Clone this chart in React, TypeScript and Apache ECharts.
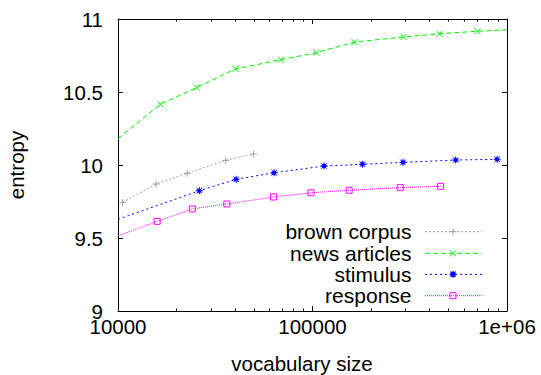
import React, { useEffect, useRef } from "react";
import * as echarts from "echarts";

// ---- data ----
const brownX = [10550, 15700, 22700, 35800, 49800];
const brownY = [9.744, 9.87, 9.943, 10.032, 10.075];

const newsX = [10000, 16500, 25400, 40200, 68800, 104700, 164300, 293800, 450400, 704600, 1000000];
const newsY = [10.18, 10.416, 10.53, 10.658, 10.721, 10.769, 10.842, 10.877, 10.899, 10.916, 10.925];

const stimX = [10000, 26200, 40500, 63500, 114700, 180600, 291700, 544700, 890000];
const stimY = [9.628, 9.824, 9.902, 9.947, 9.993, 10.005, 10.018, 10.034, 10.039];

const respX = [10000, 15900, 24100, 36300, 63100, 98200, 154300, 282500, 455700];
const respY = [9.514, 9.614, 9.699, 9.733, 9.781, 9.81, 9.827, 9.845, 9.854];

const seriesNames = ["brown corpus", "news articles", "stimulus", "response"];
const yTicks = [9, 9.5, 10, 10.5, 11];
const xMajorTicks = [10000, 100000, 1000000];
const xMajorLabels = ["10000", "100000", "1e+06"];
const xMinorTicks = [20000, 30000, 40000, 50000, 60000, 70000, 80000, 90000, 200000, 300000, 400000, 500000, 600000, 700000, 800000, 900000];

const X_MIN = 10000;
const X_MAX = 1000000;

const FONT = '"Liberation Sans", Arial, sans-serif';
const colors = ["#a0a0a0", "#00f000", "#0000ff", "#ff00ff"];
const dashes = [[2, 2], [5, 3], [2, 3], [1, 1]];

const plusPath = "path://M5 0 L5 10 M0 5 L10 5";
const crossPath = "path://M0 0 L10 10 M10 0 L0 10";
const starPath = "path://M5 0 L5 10 M0 5 L10 5 M1 1 L9 9 M9 1 L1 9 M3 3 L7 3 L7 7 L3 7 Z";
const squarePath = "path://M0 0 L10 0 L10 10 L0 10 Z";
const symbols = [plusPath, crossPath, starPath, squarePath];
const symbolSizes = [7, 6, 7, 6];

function pairs(xs: number[], ys: number[]) {
  return xs.map((x, i) => {
    const item: any = { value: [x, ys[i]] };
    if (x <= X_MIN || x >= X_MAX) item.symbol = "none";
    return item;
  });
}

function legendGraphics() {
  const rowsY = [231.7, 253.3, 274.3, 295.7];
  const textRight = 411.5;
  const lineX0 = 425;
  const lineX1 = 482;
  const mx = 453;
  const els: any[] = [];
  seriesNames.forEach((name, i) => {
    const y = rowsY[i];
    const c = colors[i];
    els.push({
      type: "text",
      x: textRight,
      y: y,
      style: {
        text: name,
        font: `21px ${FONT}`,
        fill: "#000",
        align: "right",
        verticalAlign: "middle",
        textAlign: "right",
        textVerticalAlign: "middle",
      },
    });
    els.push({
      type: "line",
      shape: { x1: lineX0, y1: y, x2: lineX1, y2: y },
      style: { stroke: c, lineWidth: 1, lineDash: dashes[i] },
    });
    const s = symbolSizes[i] / 2;
    const st = { stroke: c, lineWidth: 1, fill: "none" };
    if (i === 0 || i === 2) {
      els.push({ type: "line", shape: { x1: mx - s, y1: y, x2: mx + s, y2: y }, style: st });
      els.push({ type: "line", shape: { x1: mx, y1: y - s, x2: mx, y2: y + s }, style: st });
    }
    if (i === 1 || i === 2) {
      const d = i === 2 ? s * 0.8 : s;
      els.push({ type: "line", shape: { x1: mx - d, y1: y - d, x2: mx + d, y2: y + d }, style: st });
      els.push({ type: "line", shape: { x1: mx - d, y1: y + d, x2: mx + d, y2: y - d }, style: st });
    }
    if (i === 2) {
      els.push({ type: "rect", shape: { x: mx - 2, y: y - 2, width: 4, height: 4 }, style: { fill: c, stroke: c } });
    }
    if (i === 3) {
      els.push({ type: "rect", shape: { x: mx - s, y: y - s, width: 2 * s, height: 2 * s }, style: st });
    }
  });
  return els;
}

export default function App() {
  const ref = useRef<HTMLDivElement>(null);
  useEffect(() => {
    if (!ref.current) return;
    const chart = echarts.init(ref.current, undefined, { renderer: "svg" });
    const grid = { left: 118, right: 34, top: 19, bottom: 64 };
    const baseX = {
      type: "log" as const,
      logBase: 10,
      min: X_MIN,
      max: X_MAX,
      splitLine: { show: false },
      gridIndex: 0,
    };
    const option: any = {
      animation: false,
      backgroundColor: "#fff",
      grid: [grid],
      xAxis: [
        {
          ...baseX,
          position: "bottom",
          axisLine: { show: true, lineStyle: { color: "#000", width: 1 } },
          axisTick: { show: true, inside: true, length: 5, customValues: xMajorTicks, lineStyle: { color: "#000" } },
          axisLabel: {
            show: true,
            customValues: xMajorTicks,
            margin: 7.5,
            lineHeight: 15,
            color: "#000",
            fontFamily: FONT,
            fontSize: 20.5,
            formatter: (v: number) => {
              const idx = xMajorTicks.findIndex((t) => Math.abs(t - v) / t < 1e-6);
              return idx >= 0 ? xMajorLabels[idx] : "";
            },
          },
        },
        {
          ...baseX,
          position: "bottom",
          axisLine: { show: false },
          axisTick: { show: true, inside: true, length: 2.5, customValues: xMinorTicks, lineStyle: { color: "#000" } },
          axisLabel: { show: false },
        },
        {
          ...baseX,
          position: "top",
          axisLine: { show: true, lineStyle: { color: "#000", width: 1 } },
          axisTick: { show: true, inside: true, length: 5, customValues: xMajorTicks, lineStyle: { color: "#000" } },
          axisLabel: { show: false },
        },
        {
          ...baseX,
          position: "top",
          axisLine: { show: false },
          axisTick: { show: true, inside: true, length: 2.5, customValues: xMinorTicks, lineStyle: { color: "#000" } },
          axisLabel: { show: false },
        },
      ],
      yAxis: [
        {
          type: "value",
          min: yTicks[0],
          max: yTicks[yTicks.length - 1],
          interval: 0.5,
          position: "left",
          splitLine: { show: false },
          axisLine: { show: true, lineStyle: { color: "#000", width: 1 } },
          axisTick: { show: true, inside: true, length: 5, lineStyle: { color: "#000" } },
          axisLabel: { color: "#000", fontFamily: FONT, fontSize: 20.5, margin: 15, lineHeight: 15 },
        },
        {
          type: "value",
          min: yTicks[0],
          max: yTicks[yTicks.length - 1],
          interval: 0.5,
          position: "right",
          splitLine: { show: false },
          axisLine: { show: true, lineStyle: { color: "#000", width: 1 } },
          axisTick: { show: true, inside: true, length: 5, lineStyle: { color: "#000" } },
          axisLabel: { show: false },
        },
      ],
      series: [
        [brownX, brownY],
        [newsX, newsY],
        [stimX, stimY],
        [respX, respY],
      ].map(([xs, ys], i) => ({
        name: seriesNames[i],
        type: "line",
        xAxisIndex: 0,
        yAxisIndex: 0,
        data: pairs(xs, ys),
        symbol: symbols[i],
        symbolSize: symbolSizes[i],
        showAllSymbol: true,
        clip: true,
        lineStyle: { color: colors[i], width: 1, type: dashes[i] },
        itemStyle: { color: i === 2 ? colors[i] : "none", borderColor: colors[i], borderWidth: 1 },
        emphasis: { disabled: true },
      })),
      graphic: [
        {
          type: "text",
          x: 302,
          y: 363,
          style: {
            text: "vocabulary size",
            font: `20.5px ${FONT}`,
            fill: "#000",
            align: "center",
            verticalAlign: "middle",
            textAlign: "center",
            textVerticalAlign: "middle",
          },
        },
        {
          type: "text",
          x: 16,
          y: 165,
          rotation: Math.PI / 2,
          style: {
            text: "entropy",
            font: `20.5px ${FONT}`,
            fill: "#000",
            align: "center",
            verticalAlign: "middle",
            textAlign: "center",
            textVerticalAlign: "middle",
          },
        },
        ...legendGraphics(),
      ],
    };
    chart.setOption(option);
    return () => chart.dispose();
  }, []);
  return (
    <div
      ref={ref}
      style={{ position: "fixed", left: 0, top: 0, width: 541, height: 375, background: "#fff" }}
    />
  );
}
